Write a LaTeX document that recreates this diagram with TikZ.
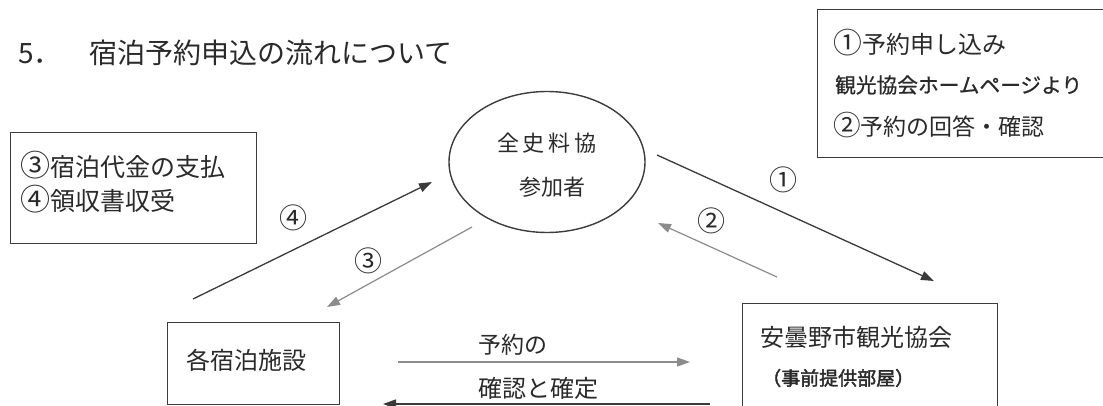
\documentclass[tikz,border=0pt]{standalone}
\usepackage{fontspec}
\usepackage{graphicx}
\usetikzlibrary{arrows.meta,shapes.geometric}
\newfontfamily\jp{Noto Sans CJK JP}
\newfontfamily\jpbold{Noto Sans CJK JP}[AutoFakeBold=2]
\newfontfamily\jpsemi{Noto Sans CJK JP}[AutoFakeBold=0.8]
\newcommand\stepnum[1]{\scalebox{1.2}{#1}}
\definecolor{ink}{HTML}{2A2A2A}
\definecolor{boxline}{HTML}{3C3C3C}
\definecolor{darkarrow}{HTML}{3A3A3A}
\definecolor{lightarrow}{HTML}{8C8C8C}
\tikzset{
  txt/.style={inner sep=0pt, text=ink, font=\jp\fontsize{#1}{#1}\selectfont},
  txt/.default=25,
  framebox/.style={draw=boxline, line width=1.4pt, inner sep=0pt, anchor=north west},
  darkflow/.style={draw=darkarrow, line width=1.3pt, -{Triangle[length=13pt,width=9pt]}},
  lightflow/.style={draw=lightarrow, line width=1.2pt, -{Triangle[length=13pt,width=9pt]}},
  steplabel/.style={inner sep=0pt, text=ink, font=\jp\fontsize{28}{28}\selectfont},
}
\begin{document}
\begin{tikzpicture}[x=1pt,y=-1pt]
\fill[white] (0,0) rectangle (1103,406);
\useasboundingbox (0,0) rectangle (1103,406);
\begin{scope}
\clip (0,0) rectangle (1103,406);
% title
\node[txt=28, anchor=west] (title) at (18,53) {5．　宿泊予約申込の流れについて};

% left box
\node[framebox, minimum width=246pt, minimum height=111pt] (paybox) at (10,132) {};
\node[txt, anchor=west] (pay1) at (20,165) {\stepnum{③}宿泊代金の支払};
\node[txt, anchor=west] (pay2) at (20,199) {\stepnum{④}領収書収受};

% top right box
\node[framebox, minimum width=290pt, minimum height=148pt] (notebox) at (817,9) {};
\node[txt=24, anchor=west] (note1) at (833,43) {\stepnum{①}予約申し込み};
\node[inner sep=0pt, text=ink, font=\jpsemi\bfseries\fontsize{20.7}{20.7}\selectfont, anchor=west] (note2) at (835,85) {観光協会ホームページより};
\node[txt=23, anchor=west] (note3) at (833,125) {\stepnum{②}予約の回答・確認};

% ellipse
\node[draw=boxline, line width=1.4pt, ellipse, minimum width=196pt, minimum height=141pt, inner sep=0pt] (member) at (547,162) {};
\node[txt=22] (member1) at (547,143) {全\hspace{4pt}史\hspace{4pt}料\hspace{4pt}協};
\node[txt=22] (member2) at (552,187) {参加者};

% bottom left box
\node[framebox, minimum width=172pt, minimum height=82pt] (hotel) at (167,322) {};
\node[txt=24] (hotel1) at (246,360) {各宿泊施設};

% bottom right box
\node[framebox, minimum width=255pt, minimum height=120pt] (assoc) at (742,303) {};
\node[txt=24, anchor=west] (assoc1) at (760,337) {安曇野市観光協会};
\node[inner sep=0pt, text=ink, font=\jpbold\bfseries\fontsize{19}{19}\selectfont, anchor=west] (assoc2) at (762,378) {（事前提供部屋）};

% flow end points
\coordinate (a1s) at (657,155); \coordinate (a1e) at (934,281);
\coordinate (a2s) at (777,277); \coordinate (a2e) at (658,223);
\coordinate (a3s) at (472,227); \coordinate (a3e) at (327,307);
\coordinate (a4s) at (193,299); \coordinate (a4e) at (432,182);
\coordinate (a5s) at (398,362); \coordinate (a5e) at (690,362);
\coordinate (a6s) at (710,404); \coordinate (a6e) at (383,404);

\draw[darkflow] (a1s) -- (a1e);
\draw[lightflow] (a2s) -- (a2e);
\draw[lightflow] (a3s) -- (a3e);
\draw[darkflow] (a4s) -- (a4e);
\draw[lightflow] (a5s) -- (a5e);
\draw[darkflow] (a6s) -- (a6e);

\node[steplabel] (l1) at (783,180) {①};
\node[steplabel] (l2) at (711,221) {②};
\node[steplabel] (l3) at (368,261) {③};
\node[steplabel] (l4) at (293,218) {④};

\node[txt=23] (conf1) at (513,345) {予約の};
\node[txt=24] (conf2) at (538,388) {確認と確定};
\end{scope}
\end{tikzpicture}
\end{document}
